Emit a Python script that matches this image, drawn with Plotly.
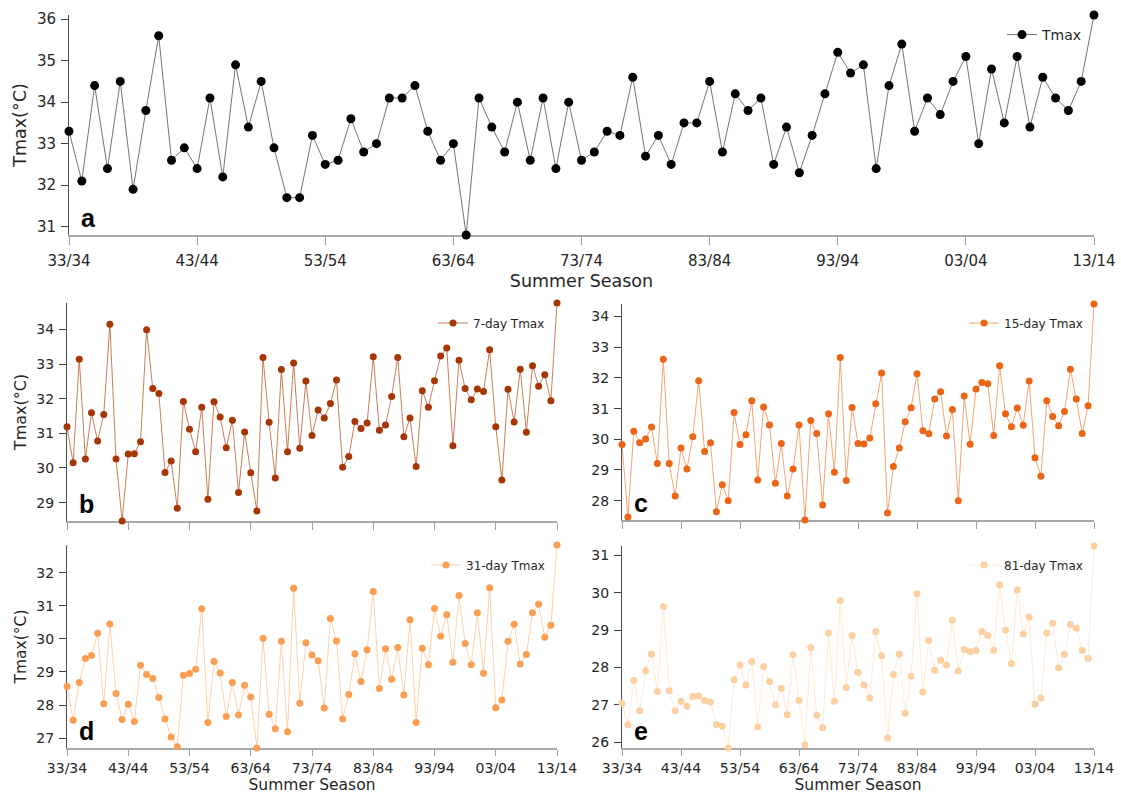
import plotly.graph_objects as go

# Summer seasons 1933/34 .. 2013/14 (x = first year of the season)
season_start = list(range(1933, 2014))
tick_years = [1933, 1943, 1953, 1963, 1973, 1983, 1993, 2003, 2013]
tick_labels = ["33/34", "43/44", "53/54", "63/64", "73/74",
               "83/84", "93/94", "03/04", "13/14"]

# Seasonal maximum temperature (°C)
tmax = [33.3, 32.1, 34.4, 32.4, 34.5, 31.9, 33.8, 35.6, 32.6, 32.9,
        32.4, 34.1, 32.2, 34.9, 33.4, 34.5, 32.9, 31.7, 31.7, 33.2,
        32.5, 32.6, 33.6, 32.8, 33.0, 34.1, 34.1, 34.4, 33.3, 32.6,
        33.0, 30.8, 34.1, 33.4, 32.8, 34.0, 32.6, 34.1, 32.4, 34.0,
        32.6, 32.8, 33.3, 33.2, 34.6, 32.7, 33.2, 32.5, 33.5, 33.5,
        34.5, 32.8, 34.2, 33.8, 34.1, 32.5, 33.4, 32.3, 33.2, 34.2,
        35.2, 34.7, 34.9, 32.4, 34.4, 35.4, 33.3, 34.1, 33.7, 34.5,
        35.1, 33.0, 34.8, 33.5, 35.1, 33.4, 34.6, 34.1, 33.8, 34.5,
        36.1]

# 7-day running-mean maximum
tmax_7 = [31.19, 30.15, 33.14, 30.26, 31.59, 30.78, 31.54, 34.15, 30.26, 28.47,
          30.40, 30.41, 30.76, 33.99, 32.29, 32.15, 29.87, 30.20, 28.84, 31.92,
          31.12, 30.47, 31.75, 29.10, 31.91, 31.47, 30.58, 31.38, 29.29, 31.04,
          29.86, 28.76, 33.19, 31.32, 29.71, 32.84, 30.47, 33.03, 30.57, 32.51,
          30.94, 31.67, 31.44, 31.86, 32.54, 30.02, 30.33, 31.34, 31.14, 31.30,
          33.21, 31.09, 31.24, 32.06, 33.19, 30.90, 31.44, 30.04, 32.23, 31.75,
          32.52, 33.23, 33.46, 30.64, 33.11, 32.29, 31.97, 32.28, 32.21, 33.41,
          31.19, 29.65, 32.27, 31.33, 32.85, 31.03, 32.95, 32.36, 32.69, 31.94,
          34.76]

# 15-day running-mean maximum
tmax_15 = [29.83, 27.47, 30.26, 29.89, 30.01, 30.40, 29.21, 32.61, 29.21, 28.15,
           29.72, 29.03, 30.08, 31.91, 29.60, 29.89, 27.64, 28.52, 28.00, 30.87,
           29.83, 30.15, 31.26, 28.67, 31.05, 30.47, 28.57, 29.86, 28.15, 29.03,
           30.47, 27.37, 30.61, 30.19, 27.86, 30.83, 28.93, 32.67, 28.66, 31.04,
           29.86, 29.85, 30.04, 31.16, 32.16, 27.60, 29.11, 29.72, 30.57, 31.03,
           32.14, 30.28, 30.18, 31.31, 31.55, 30.11, 30.97, 28.00, 31.41, 29.84,
           31.64, 31.85, 31.81, 30.12, 32.40, 30.83, 30.41, 31.02, 30.46, 31.90,
           29.40, 28.80, 31.26, 30.74, 30.44, 30.91, 32.28, 31.31, 30.19, 31.09,
           34.41]

# 31-day running-mean maximum
tmax_31 = [28.56, 27.54, 28.68, 29.41, 29.50, 30.17, 28.04, 30.45, 28.35, 27.56,
           28.02, 27.50, 29.20, 28.92, 28.80, 28.23, 27.58, 27.03, 26.74, 28.90,
           28.95, 29.08, 30.91, 27.47, 29.32, 28.97, 27.65, 28.68, 27.70, 28.60,
           28.24, 26.70, 30.02, 27.72, 27.28, 29.93, 27.19, 31.53, 28.05, 29.88,
           29.51, 29.34, 27.91, 30.62, 29.94, 27.58, 28.32, 29.55, 28.71, 29.67,
           31.43, 28.50, 29.70, 28.78, 29.74, 28.30, 30.58, 27.47, 29.72, 29.22,
           30.92, 30.08, 30.73, 29.29, 31.31, 29.86, 29.22, 30.79, 28.96, 31.55,
           27.92, 28.15, 29.93, 30.44, 29.24, 29.53, 30.79, 31.05, 30.05, 30.41,
           32.84]

# 81-day running-mean maximum
tmax_81 = [27.03, 26.46, 27.65, 26.84, 27.91, 28.36, 27.35, 29.63, 27.37, 26.84,
           27.09, 26.96, 27.22, 27.23, 27.11, 27.07, 26.47, 26.42, 25.84, 27.67,
           28.06, 27.53, 28.16, 26.41, 28.02, 27.62, 27.00, 27.44, 26.73, 28.34,
           27.11, 25.93, 28.53, 26.72, 26.38, 28.92, 27.09, 29.79, 27.46, 28.85,
           27.86, 27.53, 27.18, 28.96, 28.31, 26.11, 27.81, 28.36, 26.77, 27.76,
           29.97, 27.34, 28.72, 27.92, 28.19, 28.06, 29.26, 27.90, 28.48, 28.42,
           28.45, 28.96, 28.85, 28.46, 30.21, 29.00, 28.10, 30.07, 28.89, 29.35,
           27.01, 27.18, 28.92, 29.18, 27.99, 28.35, 29.15, 29.05, 28.46, 28.24,
           31.25]

W, H = 1121, 795
FONT = "DejaVu Sans"


def fx(p):
    return p / W


def fy(p):
    return 1 - p / H


# panel geometry in pixels: (left, right, top, bottom)
panels = [
    dict(name="Tmax", y=tmax, mc="#000000", lc="#505050", ms=9,
         box=(69, 1094, 15, 235), letter="a", xlab=True, ytitle=True,
         tickfs=15, titlefs=17.5, legfs=14, leg=(1088, 35),
         xticklen=8, xstand=6, tlstand=3),
    dict(name="7-day Tmax", y=tmax_7, mc="#a63603", lc="#bd5a30", ms=7,
         box=(67, 557, 303, 521), letter="b", xlab=False, ytitle=True,
         tickfs=14, titlefs=16, legfs=12, leg=(550, 323),
         xticklen=7, xstand=2, tlstand=1),
    dict(name="15-day Tmax", y=tmax_15, mc="#ec6415", lc="#f28b4d", ms=7,
         box=(622, 1094, 304, 520), letter="c", xlab=False, ytitle=False,
         tickfs=14, titlefs=16, legfs=12, leg=(1088, 323),
         xticklen=7, xstand=2, tlstand=1),
    dict(name="31-day Tmax", y=tmax_31, mc="#fb9e52", lc="#fdc497", ms=7,
         box=(67, 557, 545, 748), letter="d", xlab=True, ytitle=True,
         tickfs=14, titlefs=15.5, legfs=12, leg=(550, 565),
         xticklen=6, xstand=3, tlstand=0),
    dict(name="81-day Tmax", y=tmax_81, mc="#fdd0a2", lc="#fde4cb", ms=7,
         box=(622, 1094, 546, 748), letter="e", xlab=True, ytitle=False,
         tickfs=14, titlefs=15.5, legfs=12, leg=(1088, 565),
         xticklen=6, xstand=3, tlstand=0),
]

fig = go.Figure()
layout = dict(
    width=W, height=H,
    margin=dict(l=0, r=0, t=0, b=0),
    paper_bgcolor="white", plot_bgcolor="white",
    font=dict(family=FONT, color="#262626"),
    showlegend=True,
    annotations=[],
)

for i, p in enumerate(panels, start=1):
    sfx = "" if i == 1 else str(i)
    leg_key = "legend" if i == 1 else f"legend{i}"
    fig.add_trace(go.Scatter(
        x=season_start, y=p["y"], name=p["name"],
        mode="lines+markers",
        line=dict(color=p["lc"], width=0.8),
        marker=dict(color=p["mc"], size=p["ms"], line=dict(width=0)),
        cliponaxis=False,
        xaxis="x" + sfx, yaxis="y" + sfx,
        legend=leg_key,
    ))

    left, right, top, bottom = p["box"]
    ymin, ymax = min(p["y"]), max(p["y"])
    yticks = list(range(int(ymin) + 1, int(ymax) + 1))

    layout["xaxis" + sfx] = dict(
        domain=[fx(left), fx(right)], anchor="y" + sfx,
        range=[season_start[0], season_start[-1]],
        tickmode="array", tickvals=tick_years,
        ticktext=tick_labels if p["xlab"] else [""] * len(tick_years),
        showticklabels=p["xlab"],
        ticks="outside", ticklen=p["xticklen"], tickwidth=1,
        tickcolor="#a0a0a0",
        ticklabelstandoff=p["tlstand"],
        showline=True, linecolor="#a8a8a8", linewidth=1.5,
        showgrid=False, zeroline=False, automargin=False,
        layer="below traces",
        tickfont=dict(family=FONT, size=p["tickfs"], color="#262626"),
        title=dict(text="Summer Season" if p["xlab"] else "",
                   font=dict(family=FONT, size=p["titlefs"], color="#262626"),
                   standoff=p["xstand"]),
    )
    layout["yaxis" + sfx] = dict(
        domain=[fy(bottom), fy(top)], anchor="x" + sfx,
        range=[ymin, ymax],
        tickmode="array", tickvals=yticks,
        ticks="outside", ticklen=7, tickwidth=1, tickcolor="#404040",
        ticklabelstandoff=2,
        showline=True, linecolor="#505050", linewidth=1,
        showgrid=False, zeroline=False, automargin=False,
        layer="below traces",
        tickfont=dict(family=FONT, size=p["tickfs"], color="#262626"),
        title=dict(text="Tmax(°C)" if p["ytitle"] else "",
                   font=dict(family=FONT, size=p["titlefs"], color="#262626"),
                   standoff=5),
    )
    lx, ly = p["leg"]
    layout[leg_key] = dict(
        x=fx(lx), y=fy(ly), xanchor="right", yanchor="middle",
        bgcolor="rgba(0,0,0,0)", borderwidth=0,
        font=dict(family=FONT, size=p["legfs"], color="#262626"),
        itemwidth=30,
    )
    layout["annotations"].append(dict(
        text=f"<b>{p['letter']}</b>", showarrow=False,
        xref="paper", yref="paper",
        x=fx(left + 10), y=fy(bottom - 1),
        xanchor="left", yanchor="bottom",
        font=dict(family="Liberation Sans", size=25, color="black"),
    ))

fig.update_layout(**layout)
fig.write_html("out.html")
